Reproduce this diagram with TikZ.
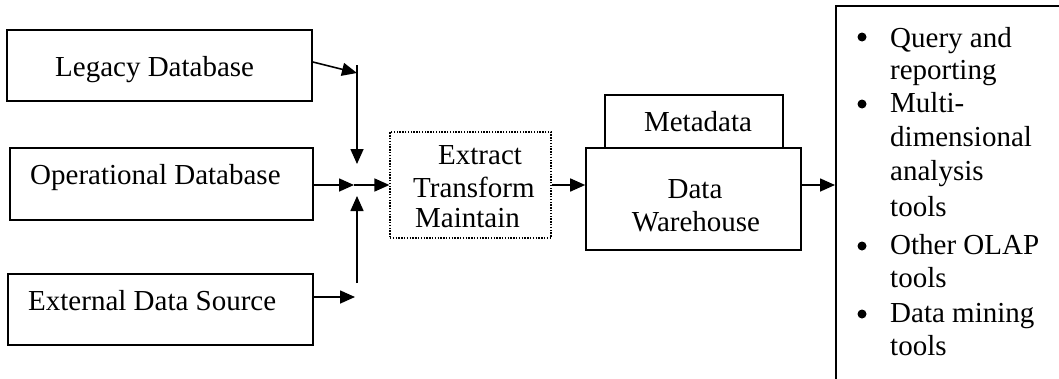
\documentclass[tikz,border=0pt]{standalone}
\usepackage{fontspec}
\setmainfont{Liberation Serif}
\usetikzlibrary{arrows.meta}

\begin{document}
\begin{tikzpicture}[x=1pt, y=-1pt,
  every node/.style={font=\fontsize{29}{32}\selectfont, inner sep=0pt},
  box/.style={draw, line width=1.6pt, minimum width=#1},
  dotbox/.style={draw, line width=1.2pt, dash pattern=on 1.4pt off 1.4pt},
  txt/.style={anchor=base west},
  ctxt/.style={anchor=base},
  conn/.style={line width=1.6pt},
  arr/.style={conn, -{Triangle[length=15pt,width=13pt]}},
  dot/.style={circle, fill, minimum size=9pt}]
  \clip (0,0) rectangle (1059,378);
  \fill[white] (0,0) rectangle (1059,378);

  % source boxes
  \node[box=305pt, minimum height=71pt] (legacy) at (159.5,65.5) {};
  \node[box=303pt, minimum height=72pt] (oper) at (161.5,184) {};
  \node[box=305pt, minimum height=71pt] (ext) at (160.5,309.5) {};
  \node[txt] (legacyT) at (55,76) {Legacy Database};
  \node[txt] (operT) at (30,184) {Operational Database};
  \node[txt] (extT) at (28,310) {External Data Source};

  % extract / transform / maintain
  \node[dotbox, minimum width=161pt, minimum height=106pt] (etm) at (470.5,185) {};
  \node[txt] (etm1) at (438,164) {Extract};
  \node[txt] (etm2) at (413,197) {Transform};
  \node[txt] (etm3) at (415,227) {Maintain};

  % warehouse with metadata on top
  \node[box=178pt, minimum height=53pt] (meta) at (694,121.5) {};
  \node[box=215pt, minimum height=102pt] (dw) at (693.5,199) {};
  \node[ctxt] (metaT) at (698,131) {Metadata};
  \node[ctxt] (dw1) at (695,198) {Data};
  \node[ctxt] (dw2) at (696,231) {Warehouse};

  % tools panel (runs past the right and bottom edges)
  \node[box=300pt, minimum height=420pt, anchor=north west] (tools) at (835,5) {};
  \foreach \y/\name in {37/b1, 104/b2, 246/b3, 314/b4}
    \node[dot] (\name) at (862,\y) {};
  \node[txt] (t1) at (890,47) {Query and};
  \node[txt] (t2) at (890,79) {reporting};
  \node[txt] (t3) at (890,112) {Multi-};
  \node[txt] (t4) at (890,146) {dimensional};
  \node[txt] (t5) at (890,180) {analysis};
  \node[txt] (t6) at (890,216) {tools};
  \node[txt] (t7) at (890,254) {Other OLAP};
  \node[txt] (t8) at (890,287) {tools};
  \node[txt] (t9) at (890,322) {Data mining};
  \node[txt] (t10) at (890,355) {tools};

  % junction points between the sources and the ETM box
  \coordinate (jl) at (357,73);
  \coordinate (jtop) at (357,65);
  \coordinate (jdown) at (357,164);
  \coordinate (jmid) at (354,185);
  \coordinate (je) at (355,297);
  \coordinate (jbot) at (357,283);
  \coordinate (jup) at (357,196);

  % connectors
  \draw[arr] (legacy.east |- 0,62) -- (jl);
  \draw[arr] (jtop) -- (jdown);
  \draw[arr] (oper.east |- jmid) -- (jmid);
  \draw[arr] (jmid) -- (etm.west |- jmid);
  \draw[arr] (ext.east |- je) -- (je);
  \draw[arr] (jbot) -- (jup);
  \draw[arr] (etm.east |- 0,185) -- (dw.west |- 0,185);
  \draw[arr] (dw.east |- 0,185) -- (tools.west |- 0,185);
\end{tikzpicture}
\end{document}
